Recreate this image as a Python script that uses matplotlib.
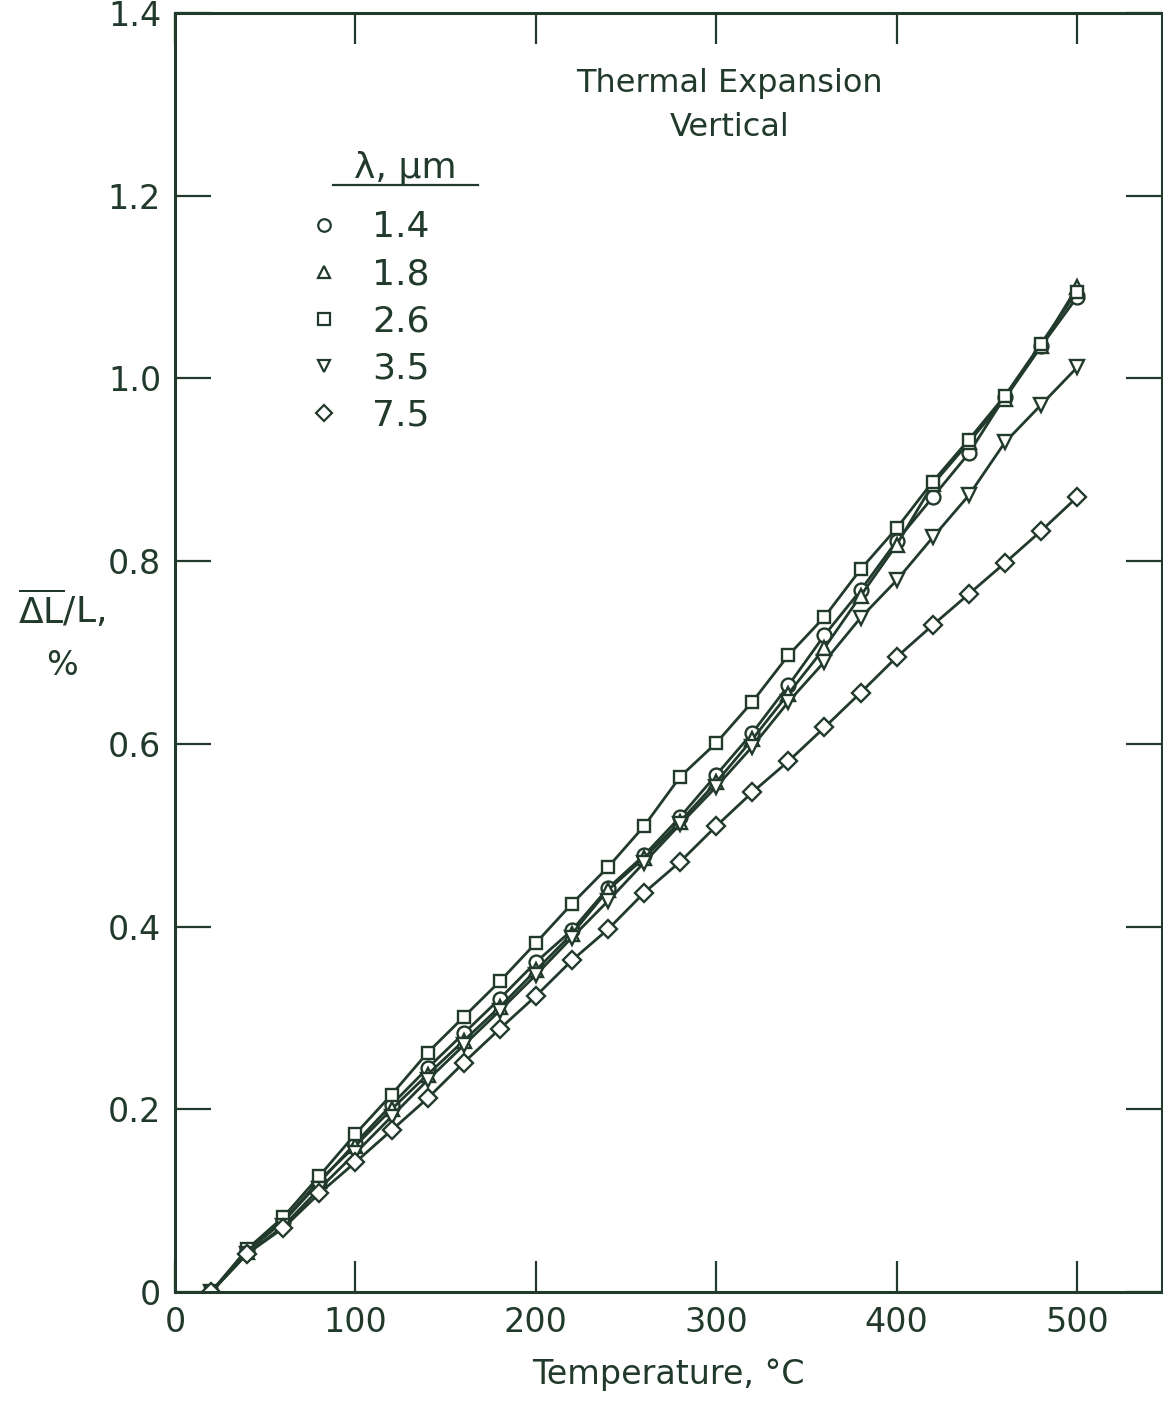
import matplotlib
matplotlib.use('Agg')
import matplotlib.pyplot as plt
from matplotlib.lines import Line2D
from matplotlib.ticker import FuncFormatter

# temperature, deg C
temps = [20, 40, 60, 80, 100, 120, 140, 160, 180, 200, 220, 240, 260,
         280, 300, 320, 340, 360, 380, 400, 420, 440, 460, 480, 500]

# mean dL/L, percent for each wavelength
dl_14 = [0, 0.046, 0.077, 0.120, 0.163, 0.205, 0.245, 0.283, 0.321, 0.361, 0.396, 0.442, 0.478,
         0.520, 0.566, 0.612, 0.664, 0.719, 0.768, 0.822, 0.870, 0.918, 0.980, 1.035, 1.089]
dl_18 = [0, 0.044, 0.078, 0.122, 0.160, 0.200, 0.238, 0.275, 0.312, 0.352, 0.392, 0.440, 0.475,
         0.515, 0.558, 0.605, 0.655, 0.705, 0.762, 0.818, 0.884, 0.930, 0.978, 1.035, 1.100]
dl_26 = [0, 0.047, 0.082, 0.127, 0.173, 0.216, 0.262, 0.301, 0.340, 0.382, 0.425, 0.465, 0.510,
         0.564, 0.601, 0.646, 0.697, 0.739, 0.791, 0.836, 0.887, 0.933, 0.981, 1.038, 1.095]
dl_35 = [0, 0.042, 0.072, 0.113, 0.152, 0.192, 0.232, 0.270, 0.308, 0.347, 0.388, 0.428, 0.470,
         0.512, 0.553, 0.597, 0.646, 0.690, 0.738, 0.779, 0.826, 0.872, 0.930, 0.971, 1.012]
dl_75 = [0, 0.042, 0.070, 0.108, 0.142, 0.177, 0.212, 0.251, 0.288, 0.324, 0.363, 0.397, 0.437,
         0.471, 0.510, 0.547, 0.581, 0.618, 0.656, 0.695, 0.730, 0.764, 0.798, 0.833, 0.870]

labels = ['1.4', '1.8', '2.6', '3.5', '7.5']
markers = ['o', '^', 's', 'v', 'D']
msizes = [10, 10, 9, 10, 9]
series = [dl_14, dl_18, dl_26, dl_35, dl_75]

ink = '#223a2c'
plt.rcParams['font.family'] = ['DejaVu Sans']
plt.rcParams['mathtext.fontset'] = 'dejavusans'

fig = plt.figure(figsize=(11.63, 14.01), dpi=100)
ax = fig.add_axes([0.1505, 0.0778, 0.8485, 0.9129])

for vals, m, ms in zip(series, markers, msizes):
    ax.plot(temps, vals, color=ink, lw=2.0, marker=m, ms=ms, mfc='white',
            mec=ink, mew=1.7)

ax.set_xlim(0, 547)
ax.set_ylim(0, 1.4)
ax.set_xticks([0, 100, 200, 300, 400, 500])
ax.set_yticks([0, 0.2, 0.4, 0.6, 0.8, 1.0, 1.2, 1.4])
ax.yaxis.set_major_formatter(FuncFormatter(lambda v, p: '0' if v == 0 else '%.1f' % v))
ax.tick_params(direction='in', length=22, width=1.6, color=ink, labelcolor=ink,
               labelsize=24, top=True, right=True, pad=10)
ax.tick_params(axis='y', length=26)
for s in ax.spines.values():
    s.set_linewidth(2.2)
    s.set_color(ink)

ax.set_xlabel('Temperature, °C', fontsize=24, color=ink, labelpad=14)

fig.text(0.053, 0.566, r'$\overline{\Delta\mathrm{L}}\mathrm{/L},$', fontsize=26,
         color=ink, ha='center', va='center')
fig.text(0.053, 0.525, '%', fontsize=24, color=ink, ha='center', va='center')

ax.text(0.562, 0.928, 'Thermal Expansion\nVertical', transform=ax.transAxes,
        fontsize=23, color=ink, ha='center', va='center', linespacing=1.55)

# legend header with underline
ax.text(0.233, 0.879, 'λ, μm', transform=ax.transAxes, fontsize=26,
        color=ink, ha='center', va='center')
ax.add_line(Line2D([0.160, 0.307], [0.8655, 0.8655], transform=ax.transAxes,
                   color=ink, lw=1.6))

handles = [Line2D([], [], ls='None', marker=m, ms=ms - 1, mfc='white', mec=ink, mew=1.6)
           for m, ms in zip(markers, msizes)]
leg = ax.legend(handles, labels, loc='upper left',
                bbox_to_anchor=(0.122, 0.857), frameon=False, fontsize=26,
                labelspacing=0.36, handletextpad=0.93, handlelength=0.8,
                borderaxespad=0)
for t in leg.get_texts():
    t.set_color(ink)

fig.savefig('out.png', dpi=100)
plt.close()
